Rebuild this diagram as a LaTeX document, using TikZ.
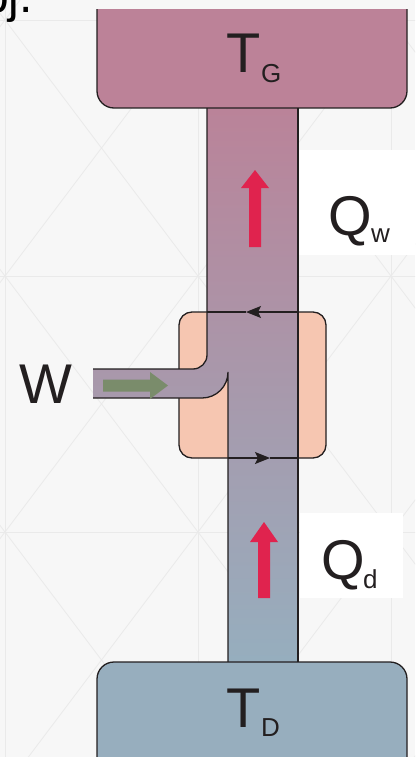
\documentclass[tikz,border=0pt]{standalone}
\usepackage{fontspec}
\setmainfont{Liberation Sans}
\usetikzlibrary{arrows.meta}

\definecolor{paper}{HTML}{F7F7F7}
\definecolor{gridcol}{HTML}{EAEAEA}
\definecolor{ink}{HTML}{231F20}
\definecolor{hotcol}{HTML}{BC8298}
\definecolor{coldcol}{HTML}{97AEBE}
\definecolor{pumpcol}{HTML}{F6C6B1}
\definecolor{tubetop}{HTML}{BA8399}
\definecolor{tubemid}{HTML}{A88FA7}
\definecolor{tubebot}{HTML}{96AEBE}
\definecolor{heatcol}{HTML}{E0234E}
\definecolor{workcol}{HTML}{7A8C6B}

\tikzset{
  gridline/.style={draw=gridcol, line width=0.8pt},
  edge/.style={draw=ink, line width=1.3pt},
  flowline/.style={draw=ink, line width=1.3pt},
  flowtip/.style={-{Stealth[length=15pt,width=12pt,inset=3pt]}},
  bigtext/.style={anchor=base west, inner sep=0pt, text=ink, font=\fontsize{56}{56}\selectfont},
  subtext/.style={anchor=base west, inner sep=0pt, text=ink, font=\fontsize{26}{26}\selectfont},
  pumpbox/.style={draw=ink, line width=1.3pt, fill=pumpcol, rounded corners=13pt,
    minimum width=147pt, minimum height=146pt, inner sep=0pt},
}

\begin{document}
\begin{tikzpicture}[x=1pt, y=-1pt]
\useasboundingbox (0,0) rectangle (415,757);
\clip (0,0) rectangle (415,757);

% paper with its faint lattice
\fill[paper] (0,0) rectangle (415,757);
\foreach \gx in {5,198,391} \draw[gridline] (\gx,-10) -- (\gx,770);
\foreach \gy in {20,276,532} \draw[gridline] (-10,\gy) -- (425,\gy);
\foreach \gx in {-188,5,198,391} {
  \foreach \gy in {-236,20,276,532} {
    \draw[gridline] (\gx,\gy) -- ++(193,256);
    \draw[gridline] (\gx+193,\gy) -- ++(-193,256);
  }
}

% white patches behind the heat labels
\fill[white] (299,150) rectangle (415,255);
\fill[white] (300,513) rectangle (403,598);

% fragment of a caption cut off at the corner
\node[anchor=base west, inner sep=0pt, text=black, font=\fontsize{48}{48}\selectfont] (frag) at (-18,13) {bj.};

% heat pump body
\node[pumpbox] (pump) at (252.5,385) {};

% working fluid channel
\coordinate (hotL) at (207,108);
\coordinate (hotR) at (298,108);
\coordinate (coldL) at (228,662);
\coordinate (coldR) at (298,662);
\coordinate (bendA) at (207,355);
\coordinate (bendB) at (193,369);
\coordinate (inTop) at (93,369);
\coordinate (inBot) at (93,398);
\coordinate (bendC) at (202,398);
\coordinate (cusp) at (228,372);

\shade[top color=tubetop, middle color=tubemid, bottom color=tubebot]
  (hotL) -- (bendA) .. controls (207,362.7) and (200.7,369) .. (bendB)
  -- (inTop) -- (inBot) -- (bendC)
  .. controls (216.4,398) and (228,386.4) .. (cusp)
  -- (coldL) -- (coldR) -- (hotR) -- cycle;

\draw[edge] (hotL) -- (bendA) .. controls (207,362.7) and (200.7,369) .. (bendB) -- (inTop);
\draw[edge] (inBot) -- (bendC) .. controls (216.4,398) and (228,386.4) .. (cusp) -- (coldL);
\draw[edge] (hotR) -- (coldR);

% circulation arrows on the pump edges
\coordinate (topR) at (298,312);
\coordinate (topMid) at (246,312);
\coordinate (topL) at (207,312);
\coordinate (botL) at (228,458);
\coordinate (botMid) at (270,458);
\coordinate (botR) at (298,458);
\draw[flowline, flowtip] (topR) -- (topMid);
\draw[flowline] (topMid) -- (topL);
\draw[flowline, flowtip] (botL) -- (botMid);
\draw[flowline] (botMid) -- (botR);

% reservoirs
\filldraw[edge, fill=hotcol, rounded corners=17pt]
  (97,-20) -- (97,108) -- (407,108) -- (407,-20);
\fill[paper] (90,-30) rectangle (415,9);
\filldraw[edge, fill=coldcol, rounded corners=17pt]
  (97,790) -- (97,662) -- (407,662) -- (407,790);

% heat flow arrows
\fill[heatcol] (249,247) -- (249,188) -- (241,188) -- (255,170) -- (269,188) -- (261,188) -- (261,247) -- cycle;
\fill[heatcol] (258,598) -- (258,542) -- (250,542) -- (264,522) -- (278,542) -- (270,542) -- (270,598) -- cycle;

% work input arrow
\fill[workcol] (103,379.5) -- (150,379.5) -- (150,372) -- (168,385.5) -- (150,399) -- (150,391.5) -- (103,391.5) -- cycle;

% labels
\node[bigtext] (tg) at (226,73) {T};
\node[subtext] (tgsub) at (261,83) {G};
\node[bigtext] (td) at (226,727) {T};
\node[subtext] (tdsub) at (261,736) {D};
\node[bigtext] (qw) at (328,235) {Q};
\node[subtext] (qwsub) at (371,242) {w};
\node[bigtext] (qd) at (321,579) {Q};
\node[subtext] (qdsub) at (363,588.5) {d};
\node[bigtext] (w) at (19,403) {W};
\end{tikzpicture}
\end{document}
